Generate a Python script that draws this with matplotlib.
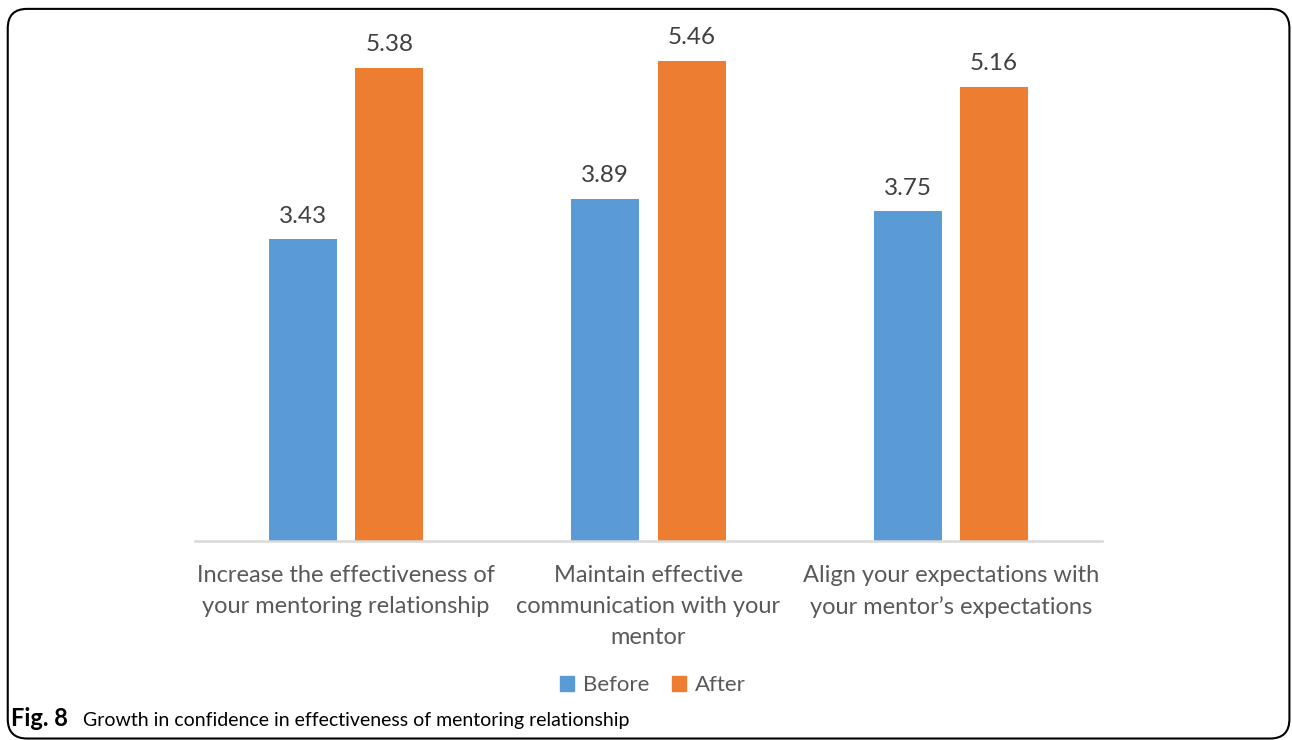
import numpy as np
import matplotlib.pyplot as plt
from matplotlib.patches import FancyBboxPatch, Patch

#data
categories = ['Increase the effectiveness of\nyour mentoring relationship',
              'Maintain effective\ncommunication with your\nmentor',
              'Align your expectations with\nyour mentor\u2019s expectations']
before = [3.43, 3.89, 3.75]
after = [5.38, 5.46, 5.16]

blue = '#5B9BD5'
orange = '#ED7D31'
font = 'Lato'

fig = plt.figure(figsize=(12.92, 7.40), dpi=100)
ax = fig.add_axes([0.1509, 0.2689, 0.7020, 0.7135])

x = np.arange(len(categories))
w = 0.225
off = 0.143
b1 = ax.bar(x - off, before, w, color=blue)
b2 = ax.bar(x + off, after, w, color=orange)

#value labels
for bars, vals in [(b1, before), (b2, after)]:
    for r, v in zip(bars, vals):
        ax.annotate(f'{v:.2f}', (r.get_x() + r.get_width() / 2, v),
                    xytext=(0, 9), textcoords='offset points',
                    ha='center', va='bottom', fontsize=17.5,
                    color='#404040', family=font)

ax.set_xlim(-0.5, 2.5)
ax.set_ylim(0, 6)
ax.set_yticks([])
ax.set_xticks(x)
ax.set_xticklabels(categories, fontsize=17, color='#595959',
                   family=font, linespacing=1.6)
ax.tick_params(axis='x', length=0, pad=17)
for s in ['top', 'left', 'right']:
    ax.spines[s].set_visible(False)
ax.spines['bottom'].set_color('#D9D9D9')
ax.spines['bottom'].set_linewidth(1.8)

#legend
handles = [Patch(color=blue, label='Before'), Patch(color=orange, label='After')]
fig.legend(handles=handles, loc='center', bbox_to_anchor=(0.5055, 0.074),
           ncol=2, frameon=False, handlelength=0.65, handleheight=0.65,
           handletextpad=0.4, columnspacing=1.0,
           prop={'family': font, 'size': 16}, labelcolor='#595959')

#caption
fig.text(0.0085, 0.019, 'Fig. 8', fontsize=17, fontweight='bold',
         family=font, va='baseline')
fig.text(0.0642, 0.019, 'Growth in confidence in effectiveness of mentoring relationship',
         fontsize=14, family=font, va='baseline')

#outer frame
frame = FancyBboxPatch((0.006, 0.002), 0.992, 0.986,
                       boxstyle='round,pad=0,rounding_size=0.015',
                       transform=fig.transFigure, fill=False,
                       edgecolor='black', linewidth=1.5, mutation_aspect=1.75)
fig.patches.append(frame)

fig.savefig('out.png', dpi=100)
